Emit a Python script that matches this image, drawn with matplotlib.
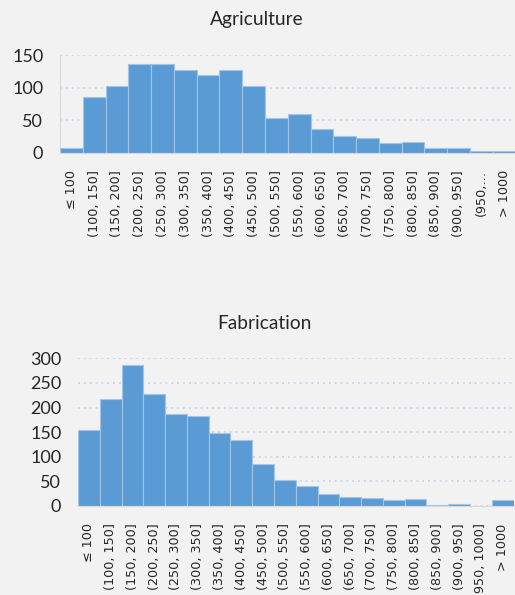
import matplotlib
matplotlib.use("Agg")
import matplotlib.pyplot as plt
import numpy as np

# Histogram bins (package weight classes)
bins_agri = ["≤ 100", "(100, 150]", "(150, 200]", "(200, 250]", "(250, 300]",
             "(300, 350]", "(350, 400]", "(400, 450]", "(450, 500]", "(500, 550]",
             "(550, 600]", "(600, 650]", "(650, 700]", "(700, 750]", "(750, 800]",
             "(800, 850]", "(850, 900]", "(900, 950]", "(950,…", "> 1000"]
bins_fab = ["≤ 100", "(100, 150]", "(150, 200]", "(200, 250]", "(250, 300]",
            "(300, 350]", "(350, 400]", "(400, 450]", "(450, 500]", "(500, 550]",
            "(550, 600]", "(600, 650]", "(650, 700]", "(700, 750]", "(750, 800]",
            "(800, 850]", "(850, 900]", "(900, 950]", "(950, 1000]", "> 1000"]

agriculture = [8, 86, 103, 137, 137, 127, 119, 127, 103, 53,
               59, 37, 25, 23, 15, 17, 7, 7, 3, 3]
fabrication = [154, 218, 287, 227, 187, 182, 148, 134, 85, 52,
               41, 25, 18, 16, 13, 14, 2, 5, 0, 12]

BG = "#f2f2f2"
BAR = "#5b9bd5"
EDGE = "#a4c5e8"
GRID = "#c9d8ea"
TXT = "#262626"

fig = plt.figure(figsize=(5.15, 5.95), dpi=100, facecolor=BG)
W, H = 515, 595


def panel(left, right, top, bottom, labels, values, ymax, step, title, tx, ty, left_spine):
    ax = fig.add_axes([left / W, 1 - bottom / H, (right - left) / W, (bottom - top) / H])
    ax.set_facecolor(BG)
    x = np.arange(len(values))
    ax.bar(x, values, width=1.0, color=BAR, edgecolor=EDGE, linewidth=0.8, zorder=3)
    ax.set_xlim(-0.5, len(values) - 0.5)
    ax.set_ylim(0, ymax)
    ax.set_yticks(np.arange(0, ymax + 1, step))
    ax.yaxis.grid(True, color=GRID, linestyle=(0, (1, 2)), linewidth=1.4, zorder=0)
    for s in ["top", "right"]:
        ax.spines[s].set_visible(False)
    ax.spines["left"].set_visible(left_spine)
    ax.spines["left"].set_color("#d9d9d9")
    ax.spines["bottom"].set_color("#d9d9d9")
    ax.spines["bottom"].set_zorder(4)
    ax.set_xticks(x)
    ax.set_xticklabels(labels, rotation=90, ha="center", va="top",
                       fontsize=9.2, color=TXT, family="DejaVu Sans")
    ax.tick_params(axis="x", length=0, pad=12.5)
    ax.tick_params(axis="y", length=0, pad=12, labelsize=13, labelcolor=TXT)
    for t in ax.get_yticklabels():
        t.set_family("Lato")
    fig.text(tx / W, 1 - ty / H, title, ha="center", va="center",
             fontsize=13.8, color=TXT, family="Lato")
    return ax


panel(60, 515.5, 55.3, 152.7, bins_agri, agriculture, 150, 50,
      "Agriculture", 257, 20, True)
panel(78, 513.5, 358.3, 506, bins_fab, fabrication, 300, 50,
      "Fabrication", 264, 323.5, False)

fig.savefig("out.png", dpi=100, facecolor=BG)
